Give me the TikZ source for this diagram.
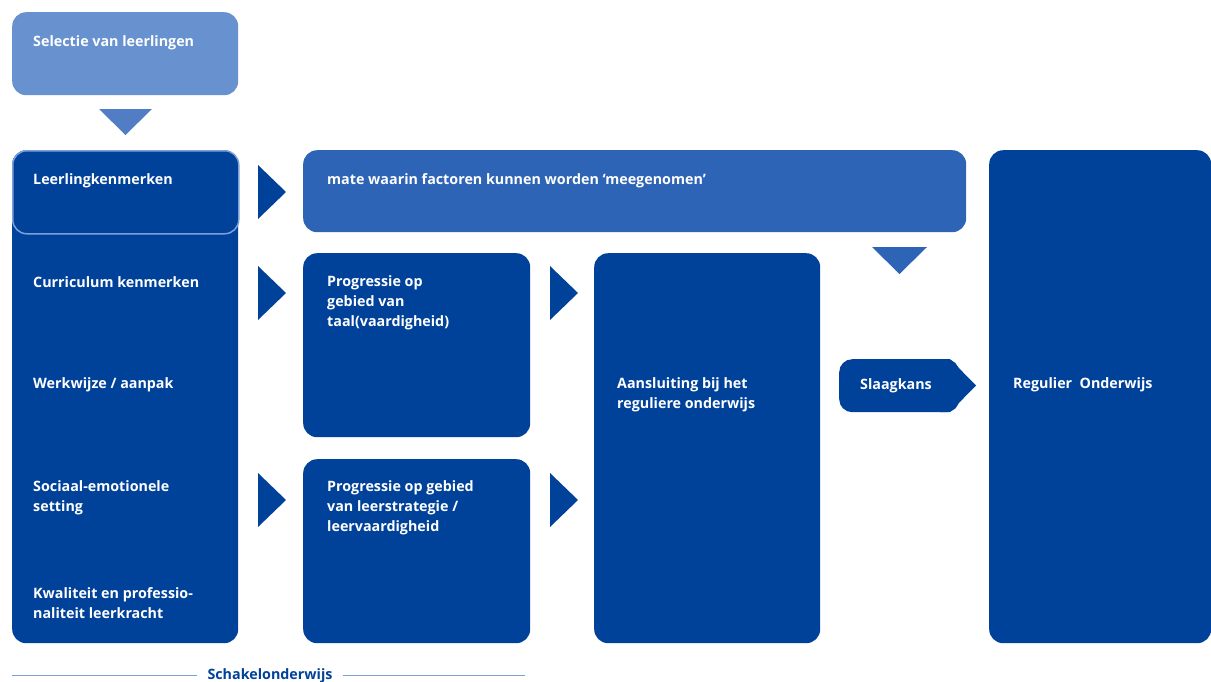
\documentclass[tikz,border=0pt]{standalone}
\usepackage{fontspec}
\setmainfont{Open Sans}[BoldFont={Open Sans Bold}]
\definecolor{dark}{RGB}{0,66,153}
\definecolor{selc}{RGB}{104,146,207}
\definecolor{midc}{RGB}{46,100,181}
\definecolor{tric}{RGB}{80,125,195}
\definecolor{linec}{RGB}{125,160,218}
\tikzset{
  box/.style={fill=#1, rounded corners=14pt, anchor=north west, inner sep=0pt},
  lbl/.style={text=white, font=\bfseries\fontsize{14.3}{20}\selectfont, align=left, inner sep=0pt},
}
\begin{document}
\begin{tikzpicture}[x=1pt,y=-1pt]
\useasboundingbox (0,0) rectangle (1211,681);
% boxes
\node[box=selc, minimum width=226pt, minimum height=83pt] (sel) at (12,12) {};
\node[box=dark, minimum width=226pt, minimum height=493pt] (left) at (12,150) {};
\node[box=dark, draw=linec, line width=1.5pt, minimum width=226pt, minimum height=83pt] (lk) at (12,150) {};
\node[box=midc, minimum width=663pt, minimum height=82pt] (mate) at (303,150) {};
\node[box=dark, minimum width=227pt, minimum height=184pt] (prog1) at (303,253) {};
\node[box=dark, minimum width=227pt, minimum height=184pt] (prog2) at (303,459) {};
\node[box=dark, minimum width=226pt, minimum height=390pt] (aans) at (594,253) {};
\node[box=dark, minimum width=222pt, minimum height=493pt] (reg) at (989,150) {};
% slaagkans
\node[box=dark, rounded corners=13pt, minimum width=120pt, minimum height=53pt] (slaag) at (839,359) {};
\fill[dark] (940,359) -- (950,359) -- (976,385.5) -- (950,412) -- (940,412) -- cycle;
% triangles
\fill[tric] (99,109) -- (152,109) -- (125.5,135) -- cycle;
\fill[midc] (872,247) -- (927,247) -- (899.5,274) -- cycle;
\foreach \x/\y in {258/192, 258/293, 258/500, 550/293, 550/500}
  \fill[dark] (\x,\y-27) -- (\x+28,\y) -- (\x,\y+27) -- cycle;
% labels
\node[lbl, anchor=west] at (33,43) {Selectie van leerlingen};
\node[lbl, anchor=west] at (33,181) {Leerlingkenmerken};
\node[lbl, anchor=west] at (33,282) {Curriculum kenmerken};
\node[lbl, anchor=west] at (33,385) {Werkwijze / aanpak};
\node[lbl, anchor=west] at (33,498) {Sociaal-emotionele\\setting};
\node[lbl, anchor=west] at (33,603) {Kwaliteit en professio-\\naliteit leerkracht};
\node[lbl, anchor=west] at (327,181) {mate waarin factoren kunnen worden ‘meegenomen’};
\node[lbl, anchor=west] at (327,303) {Progressie op\\gebied van\\taal(vaardigheid)};
\node[lbl, anchor=west] at (327,508) {Progressie op gebied\\van leerstrategie /\\leervaardigheid};
\node[lbl, anchor=west] at (617,395) {Aansluiting bij het\\reguliere onderwijs};
\node[lbl, anchor=west] at ([xshift=21pt]slaag.west) {Slaagkans};
\node[lbl, anchor=west] at (1013,385) {Regulier~ Onderwijs};
% bottom
\node[text=dark, font=\bfseries\fontsize{14.3}{16}\selectfont, inner sep=0pt, anchor=base] (schak) at (270,679) {Schakelonderwijs};
\coordinate (l1) at (12,675);
\coordinate (l2) at (525,675);
\draw[linec, line width=1pt] (l1) -- ([xshift=-10pt]schak.west |- l1);
\draw[linec, line width=1pt] ([xshift=10pt]schak.east |- l2) -- (l2);
\end{tikzpicture}
\end{document}
